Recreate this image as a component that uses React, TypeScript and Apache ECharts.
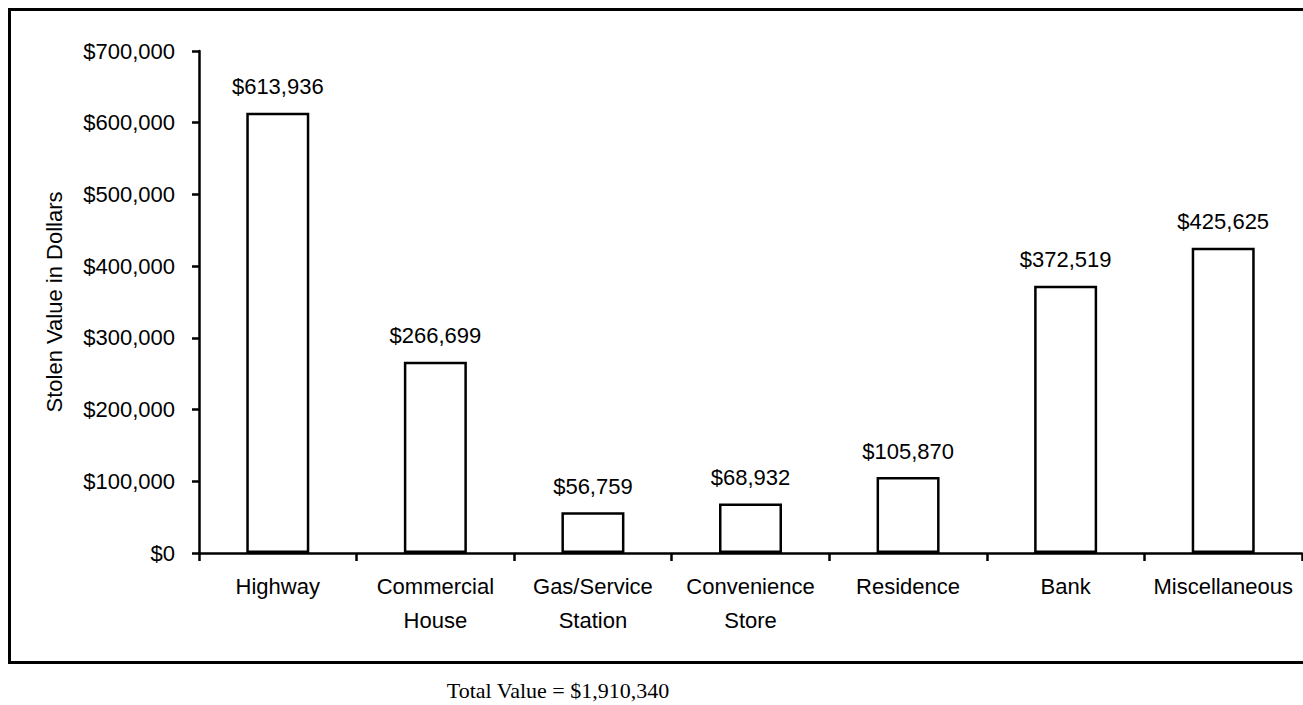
import React, { useEffect, useRef } from "react";
import * as echarts from "echarts";

const categories = [
  "Highway",
  "Commercial\nHouse",
  "Gas/Service\nStation",
  "Convenience\nStore",
  "Residence",
  "Bank",
  "Miscellaneous",
];
const stolenValues = [613936, 266699, 56759, 68932, 105870, 372519, 425625];
const yMin = 0;
const yMax = 700000;
const yInterval = 100000;
const totalText = "Total Value = $1,910,340";
const yAxisTitle = "Stolen Value in Dollars";

const fmt = (v: number) => "$" + Math.round(v).toLocaleString("en-US");
const SANS = "'Liberation Sans', Arial, sans-serif";
const SERIF = "'Liberation Serif', 'Times New Roman', serif";

export default function App() {
  const ref = useRef<HTMLDivElement>(null);
  useEffect(() => {
    if (!ref.current) return;
    const chart = echarts.init(ref.current, undefined, { renderer: "svg" });
    chart.setOption({
      animation: false,
      backgroundColor: "#ffffff",
      grid: { left: 199, right: 1, top: 51, bottom: 152, containLabel: false },
      xAxis: {
        type: "category",
        data: categories,
        boundaryGap: true,
        axisLine: { show: true, lineStyle: { color: "#000", width: 2.5 } },
        axisTick: { show: true, alignWithLabel: false, length: 8, lineStyle: { color: "#000", width: 2.5 } },
        axisLabel: {
          color: "#000",
          fontFamily: SANS,
          fontSize: 22,
          lineHeight: 34,
          margin: 16,
          interval: 0,
        },
        splitLine: { show: false },
      },
      yAxis: {
        type: "value",
        min: yMin,
        max: yMax,
        interval: yInterval,
        name: yAxisTitle,
        nameLocation: "middle",
        nameGap: 134,
        nameRotate: 90,
        nameTextStyle: { color: "#000", fontFamily: SANS, fontSize: 22 },
        axisLine: { show: true, lineStyle: { color: "#000", width: 2.5 } },
        axisTick: { show: true, inside: false, length: 7, lineStyle: { color: "#000", width: 2.5 } },
        axisLabel: {
          color: "#000",
          fontFamily: SANS,
          fontSize: 22,
          margin: 24,
          formatter: (v: number) => fmt(v),
        },
        splitLine: { show: false },
      },
      series: [
        {
          type: "bar",
          data: stolenValues,
          barWidth: 63,
          itemStyle: { color: "#ffffff", borderColor: "#000", borderWidth: 2.5 },
          label: {
            show: true,
            position: "top",
            distance: 15,
            color: "#000",
            fontFamily: SANS,
            fontSize: 22,
            formatter: (p: any) => fmt(p.value),
          },
        },
      ],
      graphic: [
        {
          type: "rect",
          shape: { x: 9.5, y: 9.5, width: 1300, height: 653 },
          style: { fill: "none", stroke: "#000", lineWidth: 3 },
          silent: true,
        },
        {
          type: "text",
          x: 558,
          y: 690,
          style: {
            text: totalText,
            fill: "#000",
            font: `22px ${SERIF}`,
            textAlign: "center",
            textVerticalAlign: "middle",
          },
        },
      ],
    });
    return () => chart.dispose();
  }, []);
  return (
    <div
      ref={ref}
      style={{ position: "fixed", left: 0, top: 0, width: 1303, height: 705, background: "#fff" }}
    />
  );
}
